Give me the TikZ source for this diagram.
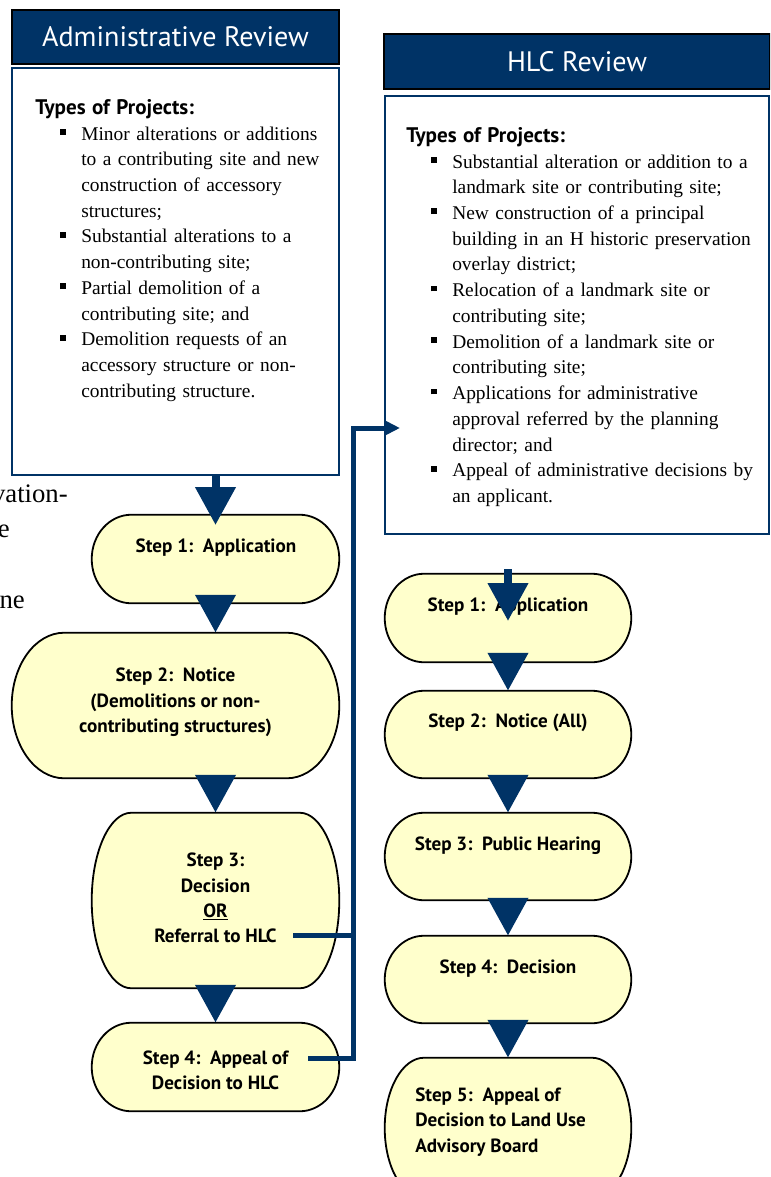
\documentclass[tikz,border=0pt]{standalone}
\usepackage{fontspec}
\setmainfont{Liberation Serif}
\newfontfamily\sansfont{PT Sans}
\usetikzlibrary{arrows.meta,calc}
\definecolor{navy}{HTML}{003366}
\definecolor{stepyellow}{HTML}{FFFFCC}
\newlength\pxu
\setlength\pxu{0.025cm}
\newcommand{\sqbul}{\rule[5.3\pxu]{5.7\pxu}{5.7\pxu}}
\newcommand{\sqitem}{\par\hangindent=46\pxu\hangafter=1\noindent\hspace*{25\pxu}\makebox[21\pxu][l]{\sqbul}}
\newcommand{\termshape}[1]{%
  \filldraw[stepline] let \p1=(#1.south west), \p2=(#1.north east),
    \n1={0.16*(\x2-\x1)}, \n2={(\y2-\y1)/2} in
    (\x1+\n1*1pt,\y2) -- (\x2-\n1*1pt,\y2)
    arc[start angle=90, end angle=-90, x radius=\n1*1pt, y radius=\n2*1pt]
    -- (\x1+\n1*1pt,\y1)
    arc[start angle=270, end angle=90, x radius=\n1*1pt, y radius=\n2*1pt] -- cycle;}
\begin{document}
\begin{tikzpicture}[x=0.025cm, y=-0.025cm,
    headbox/.style={draw=black, line width=2\pxu, fill=navy, text=white, inner sep=0,
      font=\sansfont\fontsize{20}{24}\selectfont},
    bodybox/.style={draw=navy, line width=2\pxu, fill=white, inner sep=0},
    listtext/.style={anchor=north west, inner sep=0, text width=420\pxu,
      font=\fontsize{13.8}{18.3}\selectfont},
    stepbox/.style={inner sep=0, minimum width=247\pxu},
    stepline/.style={fill=stepyellow, draw=black, line width=1.8\pxu},
    steptext/.style={inner sep=0, align=center,
      font=\sansfont\bfseries\fontsize{13.6}{18}\selectfont},
    bgtext/.style={inner sep=0, anchor=base east, font=\fontsize{19}{24}\selectfont},
    bigarrow/.style={draw=navy, line width=8\pxu, -{Triangle[length=27pt,width=27.6pt]}},
    link/.style={draw=navy, line width=5\pxu}]
  \clip (0,0) rectangle (770,1177);
  \fill[white] (0,0) rectangle (770,1177);

  % page text behind the chart
  \node[bgtext] (frag1) at (68,502) {vation-};
  \node[bgtext] (frag2) at (10,537) {e};
  \node[bgtext] (frag3) at (25,608) {ne};

  % the two review columns
  \node[headbox, minimum width=327\pxu, minimum height=54\pxu] (admhead) at (175.5,37) {Administrative Review};
  \node[bodybox, minimum width=327\pxu, minimum height=407\pxu] (admbody) at (175.5,271.5) {};
  \node[headbox, minimum width=386\pxu, minimum height=55\pxu] (hlchead) at (577,61.5) {HLC Review};
  \node[bodybox, minimum width=384\pxu, minimum height=438\pxu] (hlcbody) at (577,315) {};

  \node[listtext] (admlist) at (35,99) {%
    {\sansfont\bfseries\fontsize{15}{18.3}\selectfont Types of Projects:}
    \sqitem Minor alterations or additions\newline to a contributing site and new\newline construction of accessory\newline structures;
    \sqitem Substantial alterations to a\newline non-contributing site;
    \sqitem Partial demolition of a\newline contributing site; and
    \sqitem Demolition requests of an\newline accessory structure or non-\newline contributing structure.\par};
  \node[listtext] (hlclist) at (406,127) {%
    {\sansfont\bfseries\fontsize{15}{18.3}\selectfont Types of Projects:}
    \sqitem Substantial alteration or addition to a\newline landmark site or contributing site;
    \sqitem New construction of a principal\newline building in an H historic preservation\newline overlay district;
    \sqitem Relocation of a landmark site or\newline contributing site;
    \sqitem Demolition of a landmark site or\newline contributing site;
    \sqitem Applications for administrative\newline approval referred by the planning\newline director; and
    \sqitem Appeal of administrative decisions by\newline an applicant.\par};

  % step boxes
  \node[stepbox, minimum height=88\pxu] (a1) at (215.5,559) {};
  \node[stepbox, minimum width=327\pxu, minimum height=145\pxu] (a2) at (175.5,705.5) {};
  \node[stepbox, minimum height=175\pxu] (a3) at (215.5,900.5) {};
  \node[stepbox, minimum height=88\pxu] (a4) at (215.5,1067) {};
  \node[stepbox, minimum width=246\pxu, minimum height=88\pxu] (h1) at (508,618) {};
  \node[stepbox, minimum width=246\pxu, minimum height=87\pxu] (h2) at (508,734.5) {};
  \node[stepbox, minimum width=246\pxu, minimum height=87\pxu] (h3) at (508,856.5) {};
  \node[stepbox, minimum width=246\pxu, minimum height=87\pxu] (h4) at (508,979.5) {};
  \node[stepbox, minimum width=246\pxu, minimum height=140\pxu] (h5) at (508,1128) {};
  \foreach \b in {a1,a2,a3,a4,h1,h2,h3,h4,h5}
    \termshape{\b};

  \node[steptext] (a1t) at (216,548) {Step 1:\ \ Application};
  \node[steptext] (a2t) at (175.5,702.5) {Step 2:\ \ Notice\\(Demolitions or non-\\contributing structures)};
  \node[steptext] (a3t) at (215.5,898) {Step 3:\\Decision\\\underline{OR}\\Referral to HLC};
  \node[steptext] (a4t) at (215.5,1070) {Step 4:\ \ Appeal of\\Decision to HLC};
  \node[steptext] (h1t) at (508,607) {Step 1:\ \ Application};
  \node[steptext] (h2t) at (508,723) {Step 2:\ \ Notice (All)};
  \node[steptext] (h3t) at (508,846) {Step 3:\ \ Public Hearing};
  \node[steptext] (h4t) at (508,969) {Step 4:\ \ Decision};
  \node[steptext, anchor=west, align=left] (h5t) at (415,1122) {Step 5:\ \ Appeal of\\Decision to Land Use\\Advisory Board};

  % arrows down the columns
  \coordinate (a1tip) at (215.5,525);
  \coordinate (h1in) at (508,569);
  \coordinate (h1tip) at (508,621);
  \draw[bigarrow] (a1 |- admbody.south) -- (a1tip);
  \draw[bigarrow] (a1.south) -- (a1.south |- a2.north);
  \draw[bigarrow] (a3 |- a2.south) -- (a3.north);
  \draw[bigarrow] (a3.south) -- (a4.north);
  \draw[bigarrow] (h1in) -- (h1tip);
  \draw[bigarrow] (h1.south) -- (h2.north);
  \draw[bigarrow] (h2.south) -- (h3.north);
  \draw[bigarrow] (h3.south) -- (h4.north);
  \draw[bigarrow] (h4.south) -- (h5.north);

  % referral and appeal to HLC
  \coordinate (reftap) at (293,935);
  \coordinate (apptap) at (308,1058);
  \coordinate (bus) at (353,428);
  \coordinate (hlcin) at (400,428);
  \draw[link] (reftap) -- (reftap -| bus);
  \draw[link, -{Triangle[length=10.6pt,width=9.9pt]}] (apptap) -| (bus) -- (hlcin);
\end{tikzpicture}
\end{document}
